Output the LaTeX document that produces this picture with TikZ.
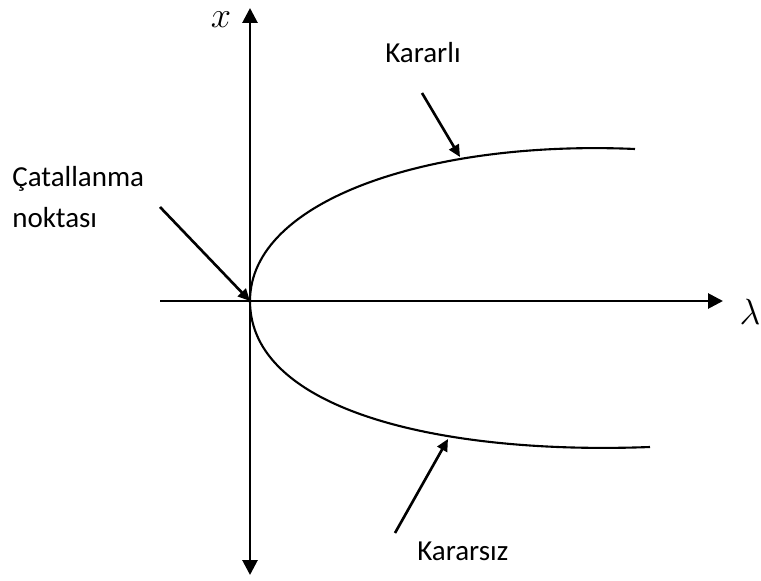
\documentclass[tikz,border=0pt]{standalone}
\usepackage{fontspec}
\setmainfont{Carlito}
\usetikzlibrary{arrows.meta,positioning}

\begin{document}
\begin{tikzpicture}[
        x=0.02cm, y=-0.02cm,
        axis/.style={
          line width=1.6pt,
          -{Triangle[length=15*0.02cm,width=15*0.02cm]}
        },
        branch/.style={
          line width=1.2pt
        },
        pointer/.style={
          line width=1.5pt,
          -{Triangle[length=12*0.02cm,width=11*0.02cm]}
        },
        label/.style={
          inner sep=0pt,
          anchor=base west,
          font=\fontsize{16.5}{19.8}\selectfont
        },
        axislabel/.style={
          inner sep=0pt,
          font=\fontsize{20}{24}\selectfont
        }
      ]

      \useasboundingbox (0,0) rectangle (761,581);

      % eksenler
      \coordinate (origin) at (250,301);
      \coordinate (xtop) at (250,8);
      \coordinate (xbot) at (250,575);
      \coordinate (lleft) at (160,301);
      \coordinate (lright) at (723,301);

      \draw[axis] (origin) -- (xtop);
      \draw[axis] (origin) -- (xbot);
      \draw[axis] (lleft) -- (lright);

      \node[axislabel] (xlab) at (221,20) {$x$};
      \node[axislabel] (llab) at (750,312) {$\lambda$};

      % dallar
      \coordinate (upend) at (635,149);
      \coordinate (lowend) at (650,447);
      \draw[branch] (origin) .. controls (250,200) and (430,140) .. (upend);
      \draw[branch] (origin) .. controls (250,410) and (440,455) .. (lowend);

      % etiketler
      \node[label] (catal) at (12,187) {Çatallanma};
      \node[label] (nokta) at (12,227) {noktası};
      \node[label] (kararli) at (385,63) {Kararlı};
      \node[label] (kararsiz) at (417,560) {Kararsız};

      \coordinate (catalfrom) at (160,207);
      \coordinate (kararlifrom) at (422,93);
      \coordinate (kararlito) at (460,157);
      \coordinate (kararsizfrom) at (395,533);
      \coordinate (kararsizto) at (448,439);

      \draw[pointer] (catalfrom) -- (origin);
      \draw[pointer] (kararlifrom) -- (kararlito);
      \draw[pointer] (kararsizfrom) -- (kararsizto);

      \end{tikzpicture}
\end{document}
